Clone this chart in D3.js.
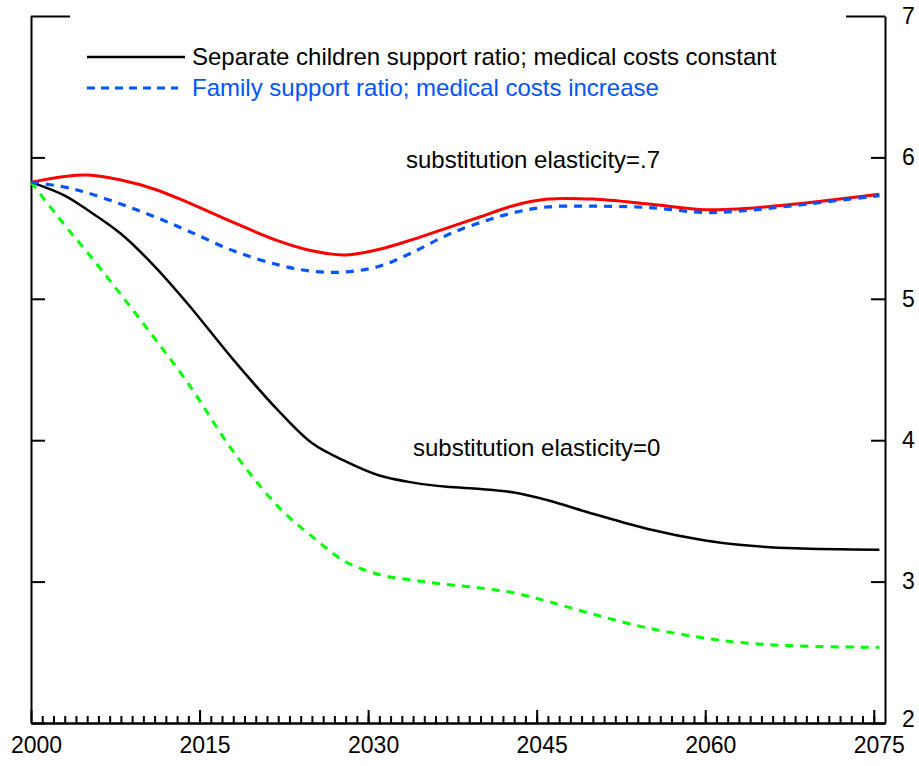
<!DOCTYPE html>
<html>
<head>
<meta charset="utf-8">
<script src="https://cdn.jsdelivr.net/npm/d3@7"></script>
<style>
  html, body { margin: 0; padding: 0; background: #fff; }
  svg { display: block; font-family: "Liberation Sans", Arial, sans-serif; }
</style>
</head>
<body>
<svg id="chart" width="919" height="766"></svg>
<script>
// ---- data ----
const years = [2000, 2003, 2005, 2008, 2011, 2014, 2018, 2022, 2025, 2028, 2031, 2034, 2037, 2040, 2043, 2046, 2050, 2055, 2060, 2063, 2068, 2075.5];
const sepHigh = [5.825, 5.865, 5.875, 5.84, 5.775, 5.68, 5.54, 5.41, 5.34, 5.31, 5.35, 5.42, 5.50, 5.58, 5.66, 5.705, 5.705, 5.67, 5.63, 5.635, 5.67, 5.74];
const famHigh = [5.825, 5.79, 5.75, 5.67, 5.58, 5.48, 5.34, 5.24, 5.195, 5.19, 5.23, 5.33, 5.45, 5.54, 5.61, 5.65, 5.655, 5.645, 5.61, 5.62, 5.66, 5.73];
const sepZero = [5.825, 5.73, 5.63, 5.46, 5.23, 4.96, 4.57, 4.21, 3.98, 3.85, 3.75, 3.70, 3.67, 3.655, 3.63, 3.575, 3.48, 3.37, 3.29, 3.26, 3.235, 3.225];
const famZero = [5.825, 5.52, 5.33, 5.03, 4.72, 4.40, 3.92, 3.53, 3.32, 3.14, 3.05, 3.01, 2.98, 2.955, 2.92, 2.86, 2.77, 2.67, 2.60, 2.57, 2.545, 2.535];
const xMajorTicks = [2000, 2015, 2030, 2045, 2060, 2075];
const xMinorTicks = d3.range(2001, 2076);
const yTicks = [2, 3, 4, 5, 6, 7];
const legendLabels = ["Separate children support ratio; medical costs constant", "Family support ratio; medical costs increase"];
const annotations = ["substitution elasticity=.7", "substitution elasticity=0"];

// ---- setup ----
const svg = d3.select("#chart");
const x = d3.scaleLinear().domain([2000, 2076]).range([31, 885]);
const y = d3.scaleLinear().domain([2, 7]).range([723, 16]);
const FONT = 23;
const TEXTFONT = 24;

// ---- axes ----
const bottomMinor = svg.append("g").attr("transform", `translate(0,${y(2)})`)
  .call(d3.axisBottom(x).tickValues(xMinorTicks).tickSize(-7).tickSizeOuter(0).tickFormat(""));
const bottomMajor = svg.append("g").attr("transform", `translate(0,${y(2)})`)
  .call(d3.axisBottom(x).tickValues(xMajorTicks).tickSize(-13).tickSizeOuter(0).tickPadding(14).tickFormat(d3.format("d")));
bottomMajor.selectAll("text").attr("dx", 5);

const leftAxis = svg.append("g").attr("transform", `translate(${x(2000)},0)`)
  .call(d3.axisRight(y).tickValues(yTicks).tickSize(14).tickSizeOuter(0).tickFormat(""));
leftAxis.selectAll(".tick line").attr("x2", d => d === 7 ? 39 : 14);

const rightAxis = svg.append("g").attr("transform", `translate(${x(2076)},0)`)
  .call(d3.axisRight(y).tickValues(yTicks).tickSize(-14).tickSizeOuter(0).tickPadding(17).tickFormat(d3.format("d")));
rightAxis.selectAll(".tick line").attr("x2", d => d === 7 ? -39 : -14);
rightAxis.selectAll("text").attr("dy", d => d === 2 ? "0.16em" : "0.32em");

svg.selectAll(".domain").attr("stroke", "#000").attr("stroke-width", 2);
svg.selectAll(".tick line").attr("stroke", "#000").attr("stroke-width", 2);
svg.selectAll(".tick text").attr("font-size", FONT).attr("font-family", "Liberation Sans, Arial, sans-serif").attr("fill", "#000");

// ---- lines ----
const line = d3.line().x(d => x(d[0])).y(d => y(d[1])).curve(d3.curveCatmullRom.alpha(0.5));
const series = [
  { vals: sepZero, color: "#000000", width: 2.5, dash: null },
  { vals: famZero, color: "#00ff00", width: 3, dash: "8,7" },
  { vals: sepHigh, color: "#ff0000", width: 3, dash: null },
  { vals: famHigh, color: "#0055ff", width: 3.2, dash: "8,7" }
];
series.forEach(s => {
  svg.append("path")
    .datum(years.map((yr, i) => [yr, s.vals[i]]))
    .attr("fill", "none")
    .attr("stroke", s.color)
    .attr("stroke-width", s.width)
    .attr("stroke-dasharray", s.dash)
    .attr("d", line);
});

// ---- legend ----
const legend = svg.append("g");
legend.append("line").attr("x1", 87).attr("x2", 185).attr("y1", 57).attr("y2", 57)
  .attr("stroke", "#000").attr("stroke-width", 2.5);
legend.append("text").attr("x", 192).attr("y", 57).attr("dy", "0.35em")
  .attr("font-size", TEXTFONT).attr("fill", "#000").text(legendLabels[0]);
legend.append("line").attr("x1", 87).attr("x2", 178).attr("y1", 88).attr("y2", 88)
  .attr("stroke", "#0055ff").attr("stroke-width", 3).attr("stroke-dasharray", "8,6");
legend.append("text").attr("x", 192).attr("y", 88).attr("dy", "0.35em")
  .attr("font-size", TEXTFONT).attr("fill", "#0055ff").text(legendLabels[1]);

// ---- annotations ----
svg.append("text").attr("x", 406).attr("y", 160).attr("dy", "0.35em")
  .attr("font-size", TEXTFONT).attr("fill", "#000").text(annotations[0]);
svg.append("text").attr("x", 413).attr("y", 448).attr("dy", "0.35em")
  .attr("font-size", TEXTFONT).attr("fill", "#000").text(annotations[1]);
</script>
</body>
</html>
